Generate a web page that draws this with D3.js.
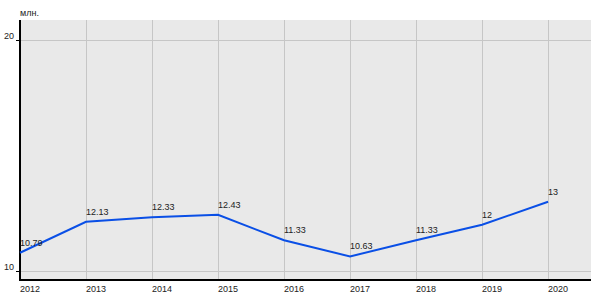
<!DOCTYPE html>
<html>
<head>
<meta charset="utf-8">
<script src="https://cdn.jsdelivr.net/npm/d3@7"></script>
<style>
  body { margin: 0; background: #fff; }
  svg text { font-family: Arial, "Liberation Sans", sans-serif; fill: #222; }
</style>
</head>
<body>
<svg id="chart" width="600" height="300"></svg>
<script>
var years = [2012, 2013, 2014, 2015, 2016, 2017, 2018, 2019, 2020];
var values = [10.79, 12.13, 12.33, 12.43, 11.33, 10.63, 11.33, 12, 13];
var valueLabels = ["10.79", "12.13", "12.33", "12.43", "11.33", "10.63", "11.33", "12", "13"];
var yTicks = [10, 20];
var unitLabel = "млн.";

var svg = d3.select("#chart");
var plotLeft = 20, plotRight = 591, plotTop = 20, plotBottom = 280;

var x = d3.scaleLinear().domain([2012, 2020.65]).range([plotLeft, plotRight]);
var y = d3.scaleLinear().domain([9.61, 20.866]).range([plotBottom, plotTop]);

// plot background
svg.append("rect")
    .attr("x", plotLeft).attr("y", plotTop)
    .attr("width", plotRight - plotLeft).attr("height", plotBottom - plotTop)
    .attr("fill", "#e9e9e9");

// grid
svg.append("g").selectAll("line").data(years.slice(1)).enter().append("line")
    .attr("x1", function(d) { return Math.round(x(d)) + 0.5; })
    .attr("x2", function(d) { return Math.round(x(d)) + 0.5; })
    .attr("y1", plotTop).attr("y2", plotBottom)
    .attr("stroke", "#c6c6c6");

svg.append("g").selectAll("line").data(yTicks).enter().append("line")
    .attr("x1", plotLeft).attr("x2", plotRight)
    .attr("y1", function(d) { return Math.round(y(d)) + 0.5; })
    .attr("y2", function(d) { return Math.round(y(d)) + 0.5; })
    .attr("stroke", "#c6c6c6");

svg.append("g").selectAll("line").data(yTicks).enter().append("line")
    .attr("x1", plotLeft - 4).attr("x2", plotLeft)
    .attr("y1", function(d) { return Math.round(y(d)) + 0.5; })
    .attr("y2", function(d) { return Math.round(y(d)) + 0.5; })
    .attr("stroke", "#000");

// axes
svg.append("line")
    .attr("x1", plotLeft).attr("x2", plotLeft).attr("y1", plotTop).attr("y2", plotBottom + 1)
    .attr("stroke", "#000").attr("stroke-width", 2);
svg.append("line")
    .attr("x1", plotLeft).attr("x2", plotRight).attr("y1", plotBottom).attr("y2", plotBottom)
    .attr("stroke", "#000").attr("stroke-width", 2);

// tick labels
svg.append("g").selectAll("text").data(yTicks).enter().append("text")
    .attr("x", 14)
    .attr("y", function(d) { return y(d) - 1; })
    .attr("text-anchor", "end")
    .attr("font-size", "9px")
    .text(function(d) { return d; });

svg.append("g").selectAll("text").data(years).enter().append("text")
    .attr("x", function(d) { return Math.round(x(d)); })
    .attr("y", 292)
    .attr("font-size", "9px")
    .text(function(d) { return d; });

svg.append("text")
    .attr("x", 20).attr("y", 16)
    .attr("font-size", "9px")
    .text(unitLabel);

// line
var line = d3.line()
    .x(function(d, i) { return x(years[i]); })
    .y(function(d) { return y(d); });

svg.append("path")
    .datum(values)
    .attr("d", line)
    .attr("fill", "none")
    .attr("stroke", "#0a4fe6")
    .attr("stroke-width", 2);

// value labels
svg.append("g").selectAll("text").data(values).enter().append("text")
    .attr("x", function(d, i) { return Math.round(x(years[i])); })
    .attr("y", function(d) { return y(d) - 7; })
    .attr("font-size", "9px")
    .text(function(d, i) { return valueLabels[i]; });
</script>
</body>
</html>
